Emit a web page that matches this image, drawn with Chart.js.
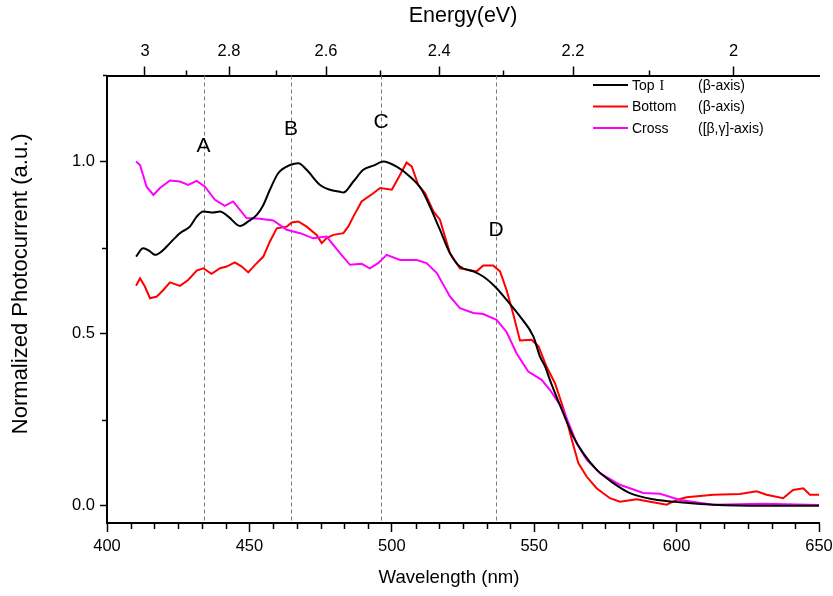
<!DOCTYPE html>
<html>
<head>
<meta charset="utf-8">
<title>Photocurrent spectra</title>
<script src="https://cdn.jsdelivr.net/npm/chart.js@4/dist/chart.umd.min.js"></script>
<style>
  html, body { margin: 0; padding: 0; background: #ffffff; }
  #wrap { width: 833px; height: 596px; }
</style>
</head>
<body>
<div id="wrap"><canvas id="chart" width="833" height="596"></canvas></div>
<script>
// ---- Data -------------------------------------------------------------
const seriesLabels = ['Top I', 'Bottom', 'Cross'];
const seriesNotes = ['(\u03B2-axis)', '(\u03B2-axis)', '([\u03B2,\u03B3]-axis)'];
const seriesColors = ['#000000', '#ff0000', '#ff00ff'];

// Top I, beta-axis
const topWavelength = [410.2, 412.7, 415.1, 416.9, 419.2, 422.1, 425.6, 429.1, 431.5, 433.8, 437.3, 439.7, 442.6, 446.7, 449.6, 452.6, 454.9, 457.2, 460.1, 464.3, 467.2, 470.1, 474.8, 478.3, 481.8, 483.0, 486.5, 490.0, 493.5, 497.0, 501.7, 506.4, 510.5, 513.4, 516.9, 520.4, 523.9, 528.6, 532.1, 536.8, 540.3, 545.0, 549.7, 552.0, 553.8, 555.5, 560.2, 563.7, 567.2, 571.9, 577.8, 583.6, 591.8, 601.2, 612.9, 630.4, 650.0];
const topValues = [0.724, 0.748, 0.739, 0.729, 0.739, 0.763, 0.792, 0.811, 0.840, 0.855, 0.852, 0.855, 0.840, 0.813, 0.826, 0.845, 0.874, 0.918, 0.966, 0.990, 0.995, 0.976, 0.932, 0.918, 0.912, 0.910, 0.942, 0.976, 0.988, 1.000, 0.985, 0.956, 0.918, 0.869, 0.802, 0.734, 0.695, 0.681, 0.666, 0.632, 0.598, 0.550, 0.492, 0.434, 0.405, 0.366, 0.269, 0.201, 0.153, 0.105, 0.066, 0.037, 0.019, 0.010, 0.003, 0.000, 0.000];

// Bottom, beta-axis
const bottomWavelength = [410.2, 411.6, 413.3, 415.1, 417.5, 419.8, 422.1, 425.6, 428.5, 431.5, 433.8, 436.7, 439.7, 442.0, 444.9, 447.3, 449.6, 452.0, 454.9, 457.2, 459.6, 463.1, 464.9, 467.2, 470.1, 473.6, 475.4, 477.1, 479.5, 483.0, 484.7, 486.5, 489.4, 493.5, 495.9, 500.0, 502.3, 505.2, 507.0, 509.3, 511.7, 514.6, 516.9, 520.4, 523.9, 529.8, 532.1, 535.6, 538.0, 540.3, 542.7, 545.0, 549.1, 551.5, 554.4, 557.3, 560.8, 563.2, 565.5, 568.4, 571.9, 576.6, 580.1, 586.0, 590.7, 596.5, 600.0, 603.5, 612.9, 622.2, 628.1, 631.6, 637.4, 640.9, 644.5, 646.8, 650.0];
const bottomValues = [0.639, 0.661, 0.637, 0.603, 0.608, 0.627, 0.649, 0.639, 0.656, 0.683, 0.690, 0.674, 0.690, 0.695, 0.707, 0.695, 0.678, 0.700, 0.724, 0.768, 0.806, 0.811, 0.823, 0.826, 0.811, 0.787, 0.763, 0.778, 0.787, 0.792, 0.811, 0.840, 0.884, 0.908, 0.923, 0.918, 0.952, 0.997, 0.986, 0.932, 0.908, 0.855, 0.831, 0.734, 0.690, 0.681, 0.698, 0.698, 0.681, 0.627, 0.555, 0.480, 0.482, 0.463, 0.403, 0.356, 0.269, 0.192, 0.124, 0.085, 0.051, 0.022, 0.012, 0.019, 0.012, 0.003, 0.017, 0.025, 0.032, 0.034, 0.042, 0.032, 0.022, 0.046, 0.051, 0.032, 0.032];

// Cross, [beta,gamma]-axis
const crossWavelength = [410.2, 411.6, 413.9, 416.3, 418.6, 422.1, 425.6, 428.5, 431.5, 434.4, 437.9, 441.4, 444.3, 449.0, 453.7, 458.4, 463.1, 467.8, 472.4, 477.1, 481.8, 485.3, 489.4, 492.3, 495.2, 498.2, 502.9, 508.7, 512.2, 515.8, 520.4, 523.9, 528.6, 532.1, 536.8, 540.3, 543.8, 547.9, 552.6, 555.5, 560.2, 564.9, 568.4, 573.1, 580.1, 588.3, 594.2, 601.2, 612.9, 630.4, 650.0];
const crossValues = [1.000, 0.990, 0.927, 0.903, 0.923, 0.945, 0.942, 0.932, 0.944, 0.927, 0.889, 0.871, 0.884, 0.836, 0.834, 0.829, 0.802, 0.792, 0.777, 0.782, 0.734, 0.700, 0.703, 0.690, 0.705, 0.729, 0.714, 0.714, 0.705, 0.676, 0.608, 0.574, 0.560, 0.557, 0.540, 0.505, 0.443, 0.390, 0.366, 0.337, 0.279, 0.182, 0.134, 0.095, 0.061, 0.037, 0.035, 0.017, 0.003, 0.006, 0.002];

// Axis ticks and titles
const wavelengthTicks = [400, 450, 500, 550, 600, 650];
const energyTicks = [3, 2.8, 2.6, 2.4, 2.2, 2];
const energyMinorTicks = [2.9, 2.7, 2.5, 2.3, 2.1];
const valueTicks = [0.0, 0.5, 1.0];
const valueMinorTicks = [0.25, 0.75];
const xTitle = 'Wavelength (nm)';
const yTitle = 'Normalized Photocurrent (a.u.)';
const topTitle = 'Energy(eV)';

// Feature markers (wavelength in nm, label height in a.u.)
const markerLabels = ['A', 'B', 'C', 'D'];
const markerWavelength = [433.9, 464.6, 496.2, 536.6];
const markerLabelY = [1.046, 1.095, 1.115, 0.800];

// ---- Helpers ----------------------------------------------------------
const HC = 1240; // eV*nm
const FONT = "'Liberation Sans', Arial, Helvetica, sans-serif";
Chart.defaults.font.family = FONT;
Chart.defaults.color = '#000';

const toPoints = (xs, ys) => xs.map((x, i) => ({ x, y: ys[i] }));

// Minor ticks on all three axes
const minorTicksPlugin = {
  id: 'minorTicks',
  afterDraw(chart) {
    const { ctx } = chart;
    const x = chart.scales.x, t = chart.scales.xTop, y = chart.scales.y;
    ctx.save();
    ctx.strokeStyle = '#000';
    ctx.lineWidth = 1.5;
    ctx.beginPath();
    for (let i = 0; i <= 30; i++) {
      if (i % 6 === 0) continue;
      const px = Math.round(x.getPixelForValue(400 + i * 50 / 6)) + 0.5;
      ctx.moveTo(px, x.top);
      ctx.lineTo(px, x.top + 6);
    }
    energyMinorTicks.forEach(e => {
      const px = Math.round(t.getPixelForValue(HC / e)) + 0.5;
      ctx.moveTo(px, t.bottom);
      ctx.lineTo(px, t.bottom - 5);
    });
    valueMinorTicks.forEach(v => {
      const py = Math.round(y.getPixelForValue(v)) + 0.5;
      ctx.moveTo(y.right, py);
      ctx.lineTo(y.right - 5, py);
    });
    // short overhang of the top axis past the left axis
    ctx.moveTo(t.left - 4, t.bottom);
    ctx.lineTo(t.left, t.bottom);
    ctx.stroke();
    ctx.restore();
  }
};

// Axis titles for the wavelength and photocurrent axes
const titlesPlugin = {
  id: 'axisTitles',
  afterDraw(chart) {
    const { ctx, chartArea } = chart;
    const cx = (chartArea.left + chartArea.right) / 2;
    const cy = (chartArea.top + chartArea.bottom) / 2;
    ctx.save();
    ctx.fillStyle = '#000';
    ctx.textAlign = 'center';
    ctx.textBaseline = 'middle';
    ctx.font = '18.6px ' + FONT;
    ctx.fillText(xTitle, cx - 14, chart.height - 18.2);
    ctx.translate(21.2, cy - 15.5);
    ctx.rotate(-Math.PI / 2);
    ctx.font = '22px ' + FONT;
    ctx.fillText(yTitle, 0, 0);
    ctx.restore();
  }
};

// Dashed guide lines and their letters
const markersPlugin = {
  id: 'markers',
  beforeDatasetsDraw(chart) {
    const { ctx, chartArea } = chart;
    const x = chart.scales.x, y = chart.scales.y;
    ctx.save();
    ctx.strokeStyle = '#7a7a7a';
    ctx.lineWidth = 1;
    ctx.setLineDash([4, 3]);
    markerWavelength.forEach(w => {
      const px = Math.round(x.getPixelForValue(w)) + 0.5;
      ctx.beginPath();
      ctx.moveTo(px, chartArea.top);
      ctx.lineTo(px, chartArea.bottom);
      ctx.stroke();
    });
    ctx.setLineDash([]);
    ctx.fillStyle = '#000';
    ctx.font = '21px ' + FONT;
    ctx.textAlign = 'center';
    ctx.textBaseline = 'middle';
    markerLabels.forEach((m, i) => {
      ctx.fillText(m, x.getPixelForValue(markerWavelength[i]), y.getPixelForValue(markerLabelY[i]));
    });
    ctx.restore();
  }
};

// Legend with line samples, names and orientation notes
const legendPlugin = {
  id: 'sideLegend',
  afterDraw(chart) {
    const { ctx } = chart;
    const x0 = 593, x1 = 628, nameX = 632, noteX = 698;
    const rows = [85, 106.5, 128];
    ctx.save();
    ctx.font = '14px ' + FONT;
    ctx.textBaseline = 'middle';
    ctx.textAlign = 'left';
    chart.data.datasets.forEach((ds, i) => {
      const yy = rows[i];
      ctx.strokeStyle = ds.borderColor;
      ctx.lineWidth = 2;
      ctx.beginPath();
      ctx.moveTo(x0, yy);
      ctx.lineTo(x1, yy);
      ctx.stroke();
      ctx.fillStyle = '#000';
      const name = ds.label;
      if (name.endsWith(' I')) {
        const head = name.slice(0, -1);
        ctx.fillText(head, nameX, yy + 1);
        const w = ctx.measureText(head).width;
        ctx.font = '14px "Liberation Serif", "Times New Roman", serif';
        ctx.fillText('I', nameX + w + 1, yy + 1);
        ctx.font = '14px ' + FONT;
      } else {
        ctx.fillText(name, nameX, yy + 1);
      }
      ctx.fillText(seriesNotes[i], noteX, yy + 1);
    });
    ctx.restore();
  }
};

const fixedSize = (size, horizontal) => scale => {
  if (horizontal) {
    scale.height = size;
    scale.paddingLeft = 0;
    scale.paddingRight = 0;
  } else {
    scale.width = size;
    scale.paddingTop = 0;
    scale.paddingBottom = 0;
  }
};

const makeSet = (i, xs, ys, opts) => Object.assign({
  label: seriesLabels[i],
  data: toPoints(xs, ys),
  borderColor: seriesColors[i],
  backgroundColor: seriesColors[i],
  borderWidth: 2,
  pointRadius: 0,
  fill: false,
  tension: 0,
  xAxisID: 'x',
  yAxisID: 'y'
}, opts || {});

const tickFont = { size: 16.5 };

new Chart(document.getElementById('chart').getContext('2d'), {
  type: 'line',
  data: {
    datasets: [
      makeSet(0, topWavelength, topValues, { cubicInterpolationMode: 'monotone', order: 0 }),
      makeSet(1, bottomWavelength, bottomValues, { order: 2 }),
      makeSet(2, crossWavelength, crossValues, { order: 1 })
    ]
  },
  options: {
    responsive: false,
    animation: false,
    devicePixelRatio: 1,
    layout: { padding: { left: 0, right: 14, top: 0, bottom: 0 } },
    plugins: { legend: { display: false }, tooltip: { enabled: false } },
    scales: {
      x: {
        type: 'linear',
        position: 'bottom',
        min: 400,
        max: 650,
        afterBuildTicks: s => { s.ticks = wavelengthTicks.map(v => ({ value: v })); },
        afterFit: fixedSize(73, true),
        border: { display: true, color: '#000', width: 2 },
        grid: { display: true, drawOnChartArea: false, drawTicks: true, tickLength: 9, tickColor: '#000', tickWidth: 1.5 },
        ticks: { font: tickFont, padding: 5, maxRotation: 0, autoSkip: false, color: '#000' },
        title: { display: false }
      },
      xTop: {
        type: 'linear',
        position: 'top',
        min: 400,
        max: 650,
        afterBuildTicks: s => { s.ticks = energyTicks.map(e => ({ value: HC / e })); },
        afterFit: fixedSize(75.5, true),
        border: { display: true, color: '#000', width: 2 },
        grid: { display: true, drawOnChartArea: false, drawTicks: true, tickLength: 9, tickColor: '#000', tickWidth: 1.5 },
        ticks: { font: tickFont, padding: 5, maxRotation: 0, autoSkip: false, color: '#000',
          callback: (v, i) => String(energyTicks[i]) },
        title: { display: true, text: topTitle, font: { size: 21.5 }, padding: { top: 3, bottom: 0 }, color: '#000' }
      },
      y: {
        type: 'linear',
        position: 'left',
        min: -0.05,
        max: 1.25,
        afterBuildTicks: s => { s.ticks = valueTicks.map(v => ({ value: v })); },
        afterFit: fixedSize(107, false),
        border: { display: true, color: '#000', width: 2 },
        grid: { display: true, drawOnChartArea: false, drawTicks: true, tickLength: 7, tickColor: '#000', tickWidth: 1.5 },
        ticks: { font: tickFont, padding: 5, color: '#000', callback: v => v.toFixed(1) },
        title: { display: false }
      }
    }
  },
  plugins: [markersPlugin, minorTicksPlugin, titlesPlugin, legendPlugin]
});
</script>
</body>
</html>
